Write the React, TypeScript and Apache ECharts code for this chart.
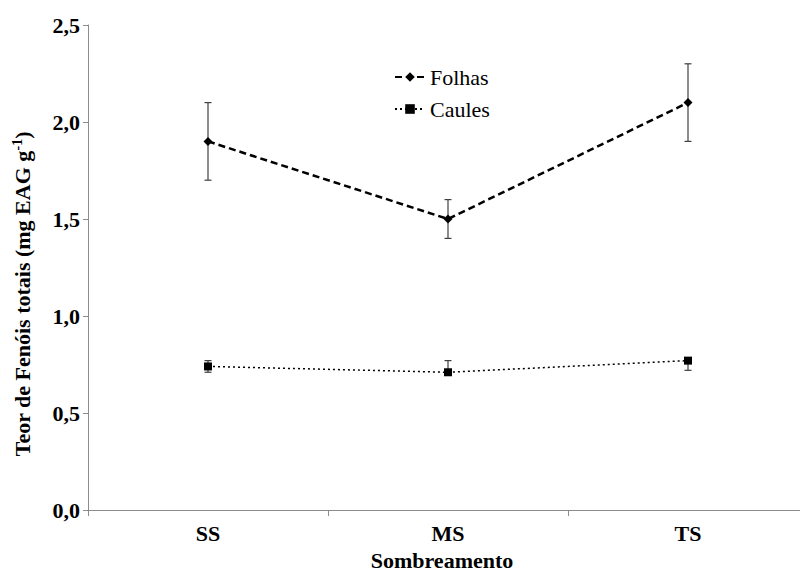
import React, { useEffect, useRef } from "react";
import * as echarts from "echarts";

const categories = ["SS", "MS", "TS"];
const folhas = [1.9, 1.5, 2.1];
const folhasErrUp = [0.2, 0.1, 0.2];
const folhasErrDown = [0.2, 0.1, 0.2];
const caules = [0.74, 0.71, 0.77];
const caulesErrUp = [0.03, 0.06, 0.0];
const caulesErrDown = [0.03, 0.0, 0.05];
const yTicks = [0, 0.5, 1.0, 1.5, 2.0, 2.5];
const xTitle = "Sombreamento";
const yTitle = "{a|Teor de Fenóis totais (mg EAG g}{s|-1}{a|)}";

const FONT = "'Liberation Serif', 'Times New Roman', Times, serif";

function errData(vals: number[], up: number[], down: number[]) {
  return vals.map((v, i) => [i, v - down[i], v + up[i]]);
}

export default function App() {
  const ref = useRef<HTMLDivElement>(null);
  useEffect(() => {
    if (!ref.current) return;
    const chart = echarts.init(ref.current, undefined, { renderer: "svg" });
    const renderErr = (params: any, api: any) => {
      const x = api.value(0);
      const lo = api.coord([x, api.value(1)]);
      const hi = api.coord([x, api.value(2)]);
      const cap = 3.5;
      const style = { stroke: "#404040", lineWidth: 1.2 };
      const children: any[] = [];
      if (Math.abs(hi[1] - lo[1]) > 0.5) {
        children.push({ type: "line", shape: { x1: lo[0], y1: lo[1], x2: hi[0], y2: hi[1] }, style });
        children.push({ type: "line", shape: { x1: lo[0] - cap, y1: lo[1], x2: lo[0] + cap, y2: lo[1] }, style });
        children.push({ type: "line", shape: { x1: hi[0] - cap, y1: hi[1], x2: hi[0] + cap, y2: hi[1] }, style });
      }
      return { type: "group", children };
    };
    chart.setOption({
      animation: false,
      backgroundColor: "#ffffff",
      textStyle: { fontFamily: FONT },
      grid: { left: 88, top: 25, width: 720, height: 485, containLabel: false, outerBoundsMode: "none" },
      legend: {
        orient: "vertical",
        left: 389,
        top: 61,
        itemWidth: 30,
        itemHeight: 12,
        itemGap: 10,
        formatter: "{t|{name}}",
        textStyle: {
          fontFamily: FONT,
          fontSize: 22,
          color: "#000",
          rich: { t: { fontFamily: FONT, fontSize: 22, color: "#000" } },
        },
        data: ["Folhas", "Caules"],
      },
      graphic: [
        {
          type: "text",
          x: 442,
          y: 560,
          style: {
            text: xTitle,
            fontFamily: FONT,
            fontSize: 22,
            fontWeight: "bold",
            fill: "#000",
            align: "center",
            verticalAlign: "middle",
          },
        },
        {
          type: "text",
          x: 22,
          y: 294,
          rotation: Math.PI / 2,
          style: {
            text: yTitle,
            fontFamily: FONT,
            fontSize: 22,
            fontWeight: "bold",
            fill: "#000",
            align: "center",
            verticalAlign: "middle",
            rich: {
              a: { fontFamily: FONT, fontSize: 22, fontWeight: "bold", fill: "#000", lineHeight: 24 },
              s: { fontFamily: FONT, fontSize: 14, fontWeight: "bold", fill: "#000", lineHeight: 24, verticalAlign: "top" },
            },
          },
        },
      ],
      xAxis: {
        type: "category",
        data: categories,
        boundaryGap: true,
        axisLine: { lineStyle: { color: "#8c8c8c", width: 1 } },
        axisTick: { show: true, length: 6, lineStyle: { color: "#8c8c8c" } },
        axisLabel: { fontFamily: FONT, fontSize: 22, fontWeight: "bold", color: "#000", margin: 12 },
        splitLine: { show: false },
      },
      yAxis: {
        type: "value",
        min: 0,
        max: 2.5,
        interval: 0.5,
        axisLine: { show: true, lineStyle: { color: "#8c8c8c", width: 1 } },
        axisTick: { show: true, length: 5, lineStyle: { color: "#8c8c8c" } },
        axisLabel: {
          fontFamily: FONT,
          fontSize: 22,
          fontWeight: "bold",
          color: "#000",
          margin: 8,
          formatter: (v: number) => (yTicks.includes(v) ? v.toFixed(1).replace(".", ",") : ""),
        },
        splitLine: { show: false },
      },
      series: [
        {
          name: "errF",
          type: "custom",
          renderItem: renderErr,
          data: errData(folhas, folhasErrUp, folhasErrDown),
          z: 1,
          silent: true,
        },
        {
          name: "errC",
          type: "custom",
          renderItem: renderErr,
          data: errData(caules, caulesErrUp, caulesErrDown),
          z: 1,
          silent: true,
        },
        {
          name: "Folhas",
          type: "line",
          data: folhas,
          symbol: "diamond",
          symbolSize: 9,
          itemStyle: { color: "#000" },
          lineStyle: { color: "#000", width: 2.5, type: [7, 4] },
          z: 3,
        },
        {
          name: "Caules",
          type: "line",
          data: caules,
          symbol: "rect",
          symbolSize: 8,
          itemStyle: { color: "#000" },
          lineStyle: { color: "#000", width: 1.5, type: [2, 3] },
          z: 3,
        },
      ],
    });
    return () => chart.dispose();
  }, []);
  return (
    <div
      ref={ref}
      style={{ position: "fixed", left: 0, top: 0, width: 800, height: 571, background: "#fff" }}
    />
  );
}
